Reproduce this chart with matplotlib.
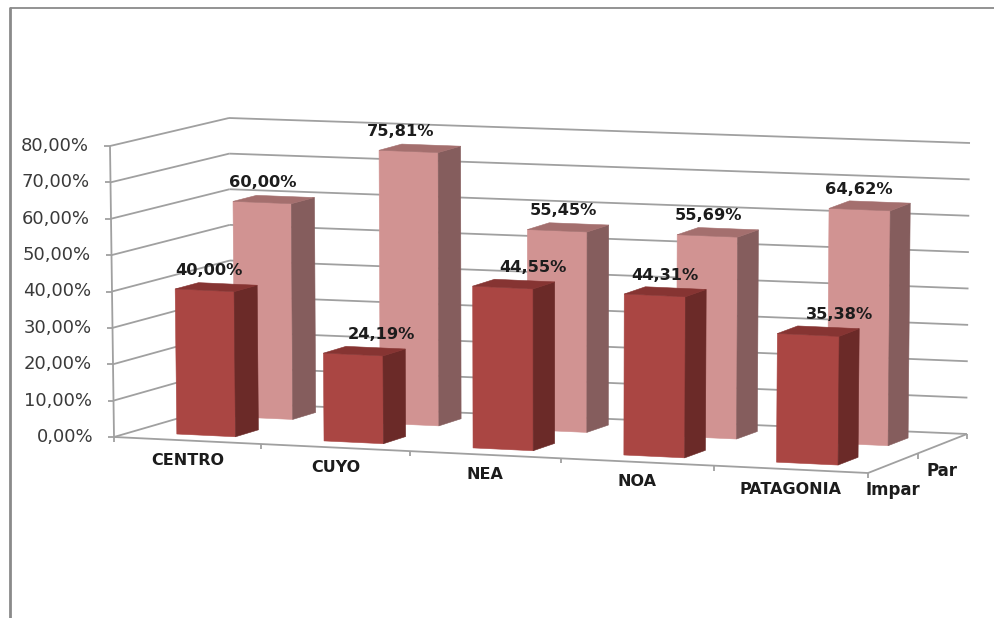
#!/usr/bin/env python3
"""Excel style 3D column chart, Impar / Par by region."""

import numpy as np
import matplotlib
matplotlib.use('Agg')
import matplotlib.pyplot as plt
from matplotlib.patches import Polygon

regions = ['CENTRO', 'CUYO', 'NEA', 'NOA', 'PATAGONIA']
series_names = ['Impar', 'Par']
impar = [40.00, 24.19, 44.55, 44.31, 35.38]
par = [60.00, 75.81, 55.45, 55.69, 64.62]
y_ticks = [0, 10, 20, 30, 40, 50, 60, 70, 80]

# how far each data label sits from the middle of its bar top (Excel moved some)
impar_label_dx = [6, 30, 32, 12, 33]
par_label_dx = [2, -6, 8, 3, 1]

# box corners in pixels: [front/back][left/right], floor and at the y maximum
floor = np.array([[[114, 437], [868, 473]], [[231, 403], [967, 434]]], float)
roof = np.array([[[110, 146], [871, 182]], [[229, 118], [970, 143]]], float)

BAR_U = (0.31, 0.71)  # bar span inside a category
SLOT_D = {0: (0.15, 0.35), 1: (0.65, 0.85)}  # bar span inside the depth
PERSPECTIVE = 0.03  # categories get a little wider to the right
GRID = '#a0a0a0'
TICK_TEXT = '#3a3a3a'
LABEL_TEXT = '#1c1c1c'


def project(u, d, v):
    """u 0..n categories, d 0..1 depth, v value in percent -> pixel x, y"""
    s = u / len(regions)
    s = s - PERSPECTIVE * s * (1 - s)
    base = (1 - d) * ((1 - s) * floor[0, 0] + s * floor[0, 1]) + d * ((1 - s) * floor[1, 0] + s * floor[1, 1])
    top = (1 - d) * ((1 - s) * roof[0, 0] + s * roof[0, 1]) + d * ((1 - s) * roof[1, 0] + s * roof[1, 1])
    return base + (top - base) * v / y_ticks[-1]


def face(ax, pts, color):
    ax.add_patch(Polygon(pts, closed=True, facecolor=color, edgecolor=color, linewidth=0.4, zorder=3))


def draw_bar(ax, i, slot, value, colors):
    u0, u1 = i + BAR_U[0], i + BAR_U[1]
    d0, d1 = SLOT_D[slot]
    front, side, top = colors
    face(ax, [project(u0, d0, 0), project(u1, d0, 0), project(u1, d0, value), project(u0, d0, value)], front)
    face(ax, [project(u1, d0, 0), project(u1, d1, 0), project(u1, d1, value), project(u1, d0, value)], side)
    face(ax, [project(u0, d0, value), project(u1, d0, value), project(u1, d1, value), project(u0, d1, value)], top)


def line(ax, a, b, lw=1.3, color=GRID):
    ax.plot([a[0], b[0]], [a[1], b[1]], color=color, lw=lw, solid_capstyle='butt', zorder=1)


fig = plt.figure(figsize=(9.94, 6.18), dpi=100)
ax = fig.add_axes([0, 0, 1, 1])
ax.set_xlim(0, 994)
ax.set_ylim(618, 0)
ax.axis('off')

# outer frame of the pasted picture
line(ax, (10, 7.5), (994, 7.5), lw=1.3, color='#8a8a8a')
line(ax, (10, 7), (10, 618), lw=2, color='#8a8a8a')

n = len(regions)
for v in y_ticks:
    line(ax, project(0, 0, v), project(0, 1, v))
    line(ax, project(0, 1, v), project(n, 1, v))
    p = project(0, 0, v)
    line(ax, (p[0] - 6, p[1]), p)
    ax.text(p[0] - 21, p[1], f'{v:.2f}%'.replace('.', ','), ha='right', va='center',
            fontsize=13, color=TICK_TEXT, family='DejaVu Sans', zorder=4)

line(ax, project(0, 0, 0), project(0, 0, y_ticks[-1]))
line(ax, project(0, 0, 0), project(n, 0, 0))
line(ax, project(n, 0, 0), project(n, 1, 0))
for i in range(n + 1):
    p = project(i, 0, 0)
    line(ax, p, (p[0], p[1] + 5))
for d in (0.5, 1):
    p = project(n, d, 0)
    line(ax, p, (p[0], p[1] + 5))

par_colors = ('#d19392', '#855d5d', '#a46f6e')
impar_colors = ('#aa4643', '#6b2a28', '#863432')
for i, value in enumerate(par):
    draw_bar(ax, i, 1, value, par_colors)
for i, value in enumerate(impar):
    draw_bar(ax, i, 0, value, impar_colors)

for slot, values, offsets in ((1, par, par_label_dx), (0, impar, impar_label_dx)):
    for i, value in enumerate(values):
        p = project(i + 0.5, SLOT_D[slot][0], value)
        ax.text(p[0] + offsets[i], p[1] - 20, f'{value:.2f}%'.replace('.', ','), ha='center', va='center',
                fontsize=11.7, fontweight='bold', color=LABEL_TEXT, family='DejaVu Sans', zorder=5)

for i, name in enumerate(regions):
    p = project(i + 0.5, 0, 0)
    ax.text(p[0], p[1] + 20, name, ha='center', va='center',
            fontsize=11.5, fontweight='bold', color=LABEL_TEXT, family='DejaVu Sans', zorder=4)

for slot, name in enumerate(series_names):
    p = project(n, slot * 0.5 + 0.25, 0)
    ax.text(p[0], p[1] + 27, name, ha='center', va='center',
            fontsize=12, fontweight='bold', color=LABEL_TEXT, family='DejaVu Sans', zorder=4)

fig.savefig('out.png', dpi=100)
plt.close(fig)
